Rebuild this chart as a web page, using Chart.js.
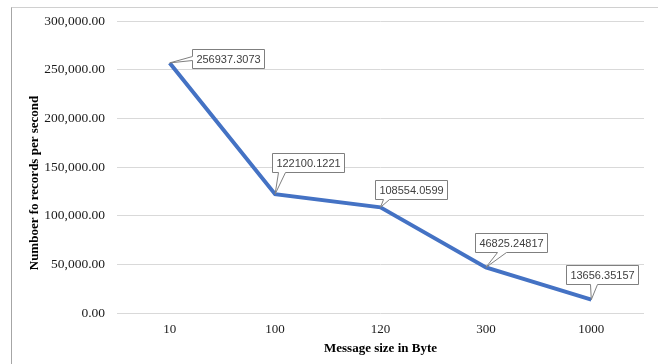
<!DOCTYPE html>
<html>
<head>
<meta charset="utf-8">
<script src="https://cdn.jsdelivr.net/npm/chart.js@4.4.1/dist/chart.umd.min.js"></script>
<style>
  html, body { margin: 0; padding: 0; background: #fff; }
  #wrap { position: relative; width: 660px; height: 364px; }
  #frame { position: absolute; left: 11px; top: 7px; width: 646px; height: 357px;
           border-left: 1px solid #a6a6a6; border-top: 1px solid #d0d0d0; }
  canvas { position: absolute; left: 0; top: 0; }
</style>
</head>
<body>
<div id="wrap">
  <div id="frame"></div>
  <canvas id="chart" width="660" height="364"></canvas>
</div>
<script>
const messageSizes = ['10', '100', '120', '300', '1000'];
const recordsPerSecond = [256937.3073, 122100.1221, 108554.0599, 46825.24817, 13656.35157];
const valueLabels = ['256937.3073', '122100.1221', '108554.0599', '46825.24817', '13656.35157'];
const yMin = 0;
const yMax = 300000;
const yStep = 50000;

// where each callout box sits relative to its point (placed by hand, like the original)
const calloutPlacement = [
  { dx: 22, dy: -14, side: 'left', notch: [7, 11] },
  { dx: -3, dy: -41, side: 'bottom', notch: [6, 13] },
  { dx: -6, dy: -27, side: 'bottom', notch: [8, 14] },
  { dx: -11, dy: -34, side: 'bottom', notch: [22, 31] },
  { dx: -25, dy: -35, side: 'bottom', notch: [24, 31] }
];

const serif = '"Liberation Serif", "Times New Roman", serif';

// Excel style callouts with a wedge pointing at the data point
const calloutPlugin = {
  id: 'callouts',
  afterDatasetsDraw(chart) {
    const ctx = chart.ctx;
    const points = chart.getDatasetMeta(0).data;
    ctx.save();
    ctx.font = '11px "Liberation Sans", Arial, sans-serif';
    points.forEach((pt, i) => {
      const place = calloutPlacement[i];
      const text = valueLabels[i];
      const w = Math.round(ctx.measureText(text).width) + 8;
      const h = 19;
      const l = Math.round(pt.x + place.dx) + 0.5;
      const t = Math.round(pt.y + place.dy) + 0.5;
      const r = l + w, b = t + h;
      ctx.beginPath();
      ctx.moveTo(l, t);
      ctx.lineTo(r, t);
      ctx.lineTo(r, b);
      if (place.side === 'bottom') {
        ctx.lineTo(l + place.notch[1], b);
        ctx.lineTo(pt.x, pt.y);
        ctx.lineTo(l + place.notch[0], b);
        ctx.lineTo(l, b);
      } else {
        ctx.lineTo(l, b);
        ctx.lineTo(l, t + place.notch[1]);
        ctx.lineTo(pt.x, pt.y);
        ctx.lineTo(l, t + place.notch[0]);
      }
      ctx.closePath();
      ctx.fillStyle = '#ffffff';
      ctx.fill();
      ctx.strokeStyle = '#7f7f7f';
      ctx.lineWidth = 1;
      ctx.stroke();
      ctx.fillStyle = '#404040';
      ctx.textAlign = 'center';
      ctx.textBaseline = 'middle';
      ctx.fillText(text, l + w / 2, t + h / 2 + 1);
    });
    ctx.restore();
  }
};

// y axis title, centred on the plot plus labels like Excel does
const yTitlePlugin = {
  id: 'yTitle',
  afterDraw(chart) {
    const ctx = chart.ctx;
    const area = chart.chartArea;
    ctx.save();
    ctx.translate(35, (area.top + area.bottom) / 2 + 16);
    ctx.rotate(-Math.PI / 2);
    ctx.font = 'bold 13px ' + serif;
    ctx.fillStyle = '#000000';
    ctx.textAlign = 'center';
    ctx.textBaseline = 'middle';
    ctx.fillText('Numboer fo records per second', 0, 0);
    ctx.restore();
  }
};

const canvas = document.getElementById('chart');
const context = canvas.getContext('2d');
const chart = new Chart(context, {
  type: 'line',
  data: {
    labels: messageSizes,
    datasets: [{
      data: recordsPerSecond,
      borderColor: '#4472C4',
      borderWidth: 4,
      pointRadius: 0,
      tension: 0,
      fill: false
    }]
  },
  options: {
    responsive: false,
    animation: false,
    devicePixelRatio: 1,
    layout: { padding: { left: 12, top: 21, right: 16, bottom: 0 } },
    plugins: {
      legend: { display: false },
      tooltip: { enabled: false }
    },
    scales: {
      x: {
        offset: true,
        grid: { display: false, drawTicks: false },
        border: { display: false },
        ticks: {
          padding: 9,
          color: '#1a1a1a',
          font: { family: serif, size: 13 },
          maxRotation: 0
        },
        title: {
          display: true,
          text: 'Message size in Byte',
          color: '#000000',
          font: { family: serif, size: 13, weight: 'bold' },
          padding: { top: 0, bottom: 8 }
        },
        afterFit(scale) { scale.height = 51; }
      },
      y: {
        min: yMin,
        max: yMax,
        grid: { color: '#d9d9d9', lineWidth: 1, drawTicks: false },
        border: { display: false },
        ticks: {
          stepSize: yStep,
          padding: 12,
          color: '#1a1a1a',
          font: { family: serif, size: 13.5 },
          callback: v => v.toLocaleString('en-US', { minimumFractionDigits: 2, maximumFractionDigits: 2 })
        },
        afterFit(scale) { scale.width = 105; }
      }
    }
  },
  plugins: [calloutPlugin, yTitlePlugin]
});
</script>
</body>
</html>
